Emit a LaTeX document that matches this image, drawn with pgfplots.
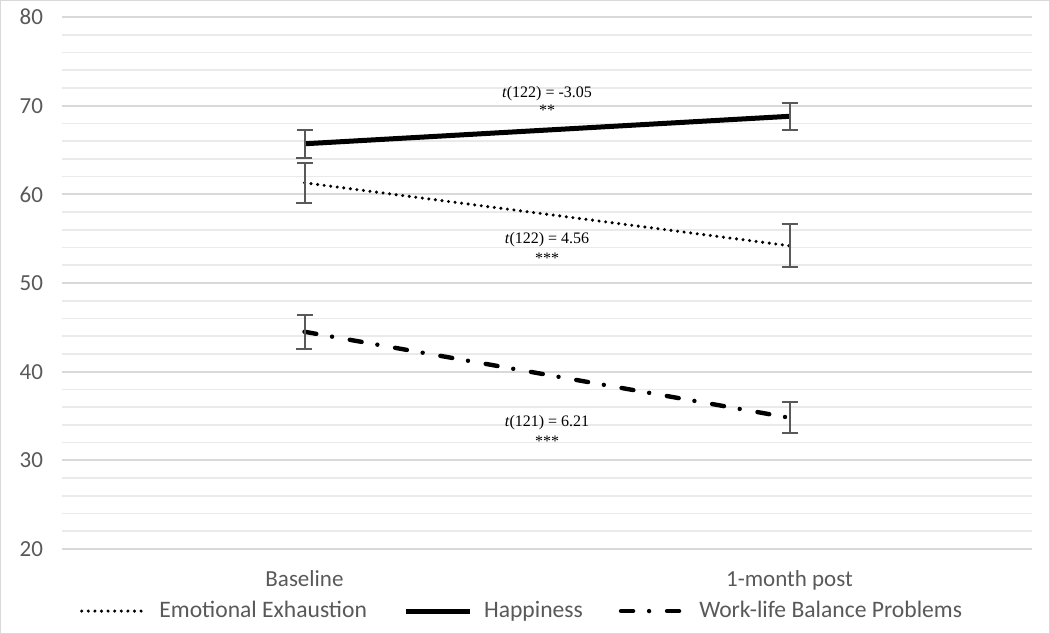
\documentclass[border=0pt]{standalone}
\usepackage{pgfplots}
\pgfplotsset{compat=1.18}
\usepackage{fontspec}
\setmainfont{Carlito}
\newfontfamily\timesfont{Liberation Serif}
\definecolor{gridmaj}{HTML}{D9D9D9}
\definecolor{gridmin}{HTML}{EAEAEA}
\definecolor{txtgray}{HTML}{595959}
\definecolor{errgray}{HTML}{595959}
\begin{document}
\begin{tikzpicture}
\begin{axis}[
  name=ax,
  scale only axis, width=485pt, height=266pt,
  xmin=-0.5, xmax=1.5, ymin=20, ymax=80,
  xtick={0,1}, xticklabels={Baseline, 1-month post},
  ytick={20,30,...,80}, minor y tick num=4,
  ymajorgrids, yminorgrids,
  major grid style={gridmaj, line width=0.9pt},
  minor grid style={gridmin, line width=0.8pt},
  axis line style={draw=none},
  major tick length=0pt, minor tick length=0pt,
  tick label style={font=\fontsize{11.5}{13}\selectfont, text=txtgray},
  /pgf/number format/assume math mode=true,
  yticklabel style={xshift=-6pt},
  xticklabel style={yshift=-7pt},
  legend columns=3,
  legend style={draw=none, at={(0.5,0)}, anchor=north, yshift=-22pt, xshift=-12pt,
    font=\fontsize{11.8}{13}\selectfont, text=txtgray,
    /tikz/every odd column/.append style={column sep=4pt},
    /tikz/every even column/.append style={column sep=16pt}},
  legend image code/.code={\draw[#1] (0pt,0pt) -- (32pt,0pt);},
  clip=false,
]
\addplot[black, line width=1.7pt, line cap=round, dash pattern=on 0pt off 3.3pt,
  error bars/.cd, y dir=both, y explicit,
  error bar style={errgray, line width=1pt, solid, line cap=butt},
  error mark options={errgray, rotate=90, mark size=4pt, line width=1pt, solid}]
  coordinates {(0,61.3) +- (0,2.25) (1,54.2) +- (0,2.4)};
\addlegendentry{Emotional Exhaustion}
\addplot[black, line width=2.5pt,
  error bars/.cd, y dir=both, y explicit,
  error bar style={errgray, line width=1pt, solid},
  error mark options={errgray, rotate=90, mark size=4pt, line width=1pt, solid}]
  coordinates {(0,65.7) +- (0,1.6) (1,68.8) +- (0,1.55)};
\addlegendentry{Happiness}
\addplot[black, line width=2.2pt, line cap=round, dash pattern=on 6pt off 8pt on 0pt off 9pt,
  error bars/.cd, y dir=both, y explicit,
  error bar style={errgray, line width=1pt, solid, line cap=butt},
  error mark options={errgray, rotate=90, mark size=4pt, line width=1pt, solid}]
  coordinates {(0,44.5) +- (0,1.9) (1,34.8) +- (0,1.75)};
\addlegendentry{Work-life Balance Problems}
\node[font=\timesfont\fontsize{8}{9}\selectfont] at (axis cs:0.5,71.4) {\textit{t}(122) = -3.05};
\node[font=\timesfont\fontsize{8}{9}\selectfont] at (axis cs:0.5,69.5) {**};
\node[font=\timesfont\fontsize{8}{9}\selectfont] at (axis cs:0.5,54.9) {\textit{t}(122) = 4.56};
\node[font=\timesfont\fontsize{8}{9}\selectfont] at (axis cs:0.5,52.8) {***};
\node[font=\timesfont\fontsize{8}{9}\selectfont] at (axis cs:0.5,34.2) {\textit{t}(121) = 6.21};
\node[font=\timesfont\fontsize{8}{9}\selectfont] at (axis cs:0.5,32.2) {***};
\end{axis}
\draw[gridmaj, line width=0.5pt] ([shift={(-30.75pt,-42.25pt)}]ax.south west) rectangle ([shift={(8.75pt,8.25pt)}]ax.north east);
\end{tikzpicture}
\end{document}
